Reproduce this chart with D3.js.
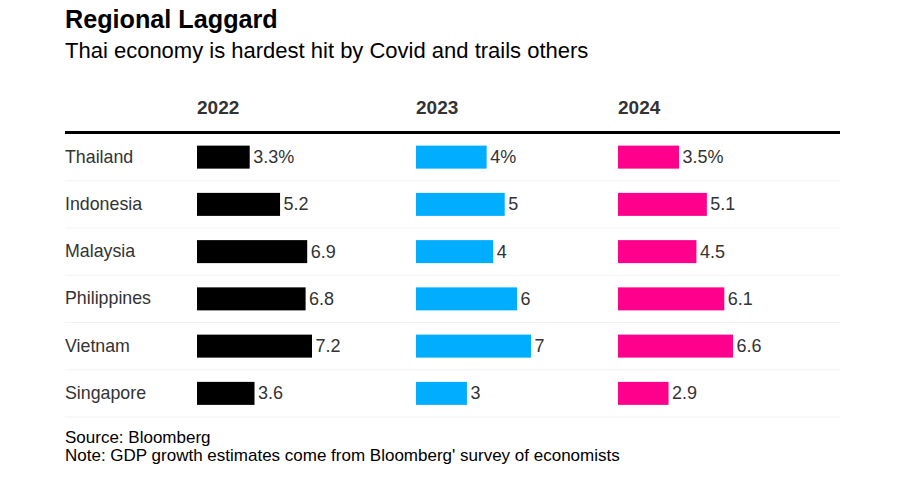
<!DOCTYPE html>
<html>
<head>
<meta charset="utf-8">
<script src="https://cdn.jsdelivr.net/npm/d3@7"></script>
<style>
  body { margin: 0; background: #fff; }
  svg { display: block; font-family: "Liberation Sans", Arial, Helvetica, sans-serif; }
</style>
</head>
<body>
<svg id="chart" width="906" height="479"></svg>
<script>
const countries = ["Thailand", "Indonesia", "Malaysia", "Philippines", "Vietnam", "Singapore"];
const years = ["2022", "2023", "2024"];
const values2022 = [3.3, 5.2, 6.9, 6.8, 7.2, 3.6];
const values2023 = [4.3, 5.4, 4.7, 6.15, 7.0, 3.1];
const values2024 = [3.5, 5.1, 4.5, 6.1, 6.6, 2.9];
const labels2022 = ["3.3%", "5.2", "6.9", "6.8", "7.2", "3.6"];
const labels2023 = ["4%", "5", "4", "6", "7", "3"];
const labels2024 = ["3.5%", "5.1", "4.5", "6.1", "6.6", "2.9"];
const colors = ["#000000", "#00adfe", "#ff008c"];

const series = [
  { year: years[0], values: values2022, labels: labels2022, color: colors[0] },
  { year: years[1], values: values2023, labels: labels2023, color: colors[1] },
  { year: years[2], values: values2024, labels: labels2024, color: colors[2] }
];

const svg = d3.select("#chart");
const left = 65, right = 840;
const colX = [197, 416, 618];
const barMax = 115;

svg.append("text").attr("x", left).attr("y", 28)
  .attr("font-size", 25.2).attr("font-weight", "bold").attr("fill", "#000")
  .text("Regional Laggard");
svg.append("text").attr("x", left).attr("y", 58)
  .attr("font-size", 22).attr("fill", "#000")
  .text("Thai economy is hardest hit by Covid and trails others");

// headers
series.forEach((s, i) => {
  svg.append("text").attr("x", colX[i]).attr("y", 114)
    .attr("font-size", 19).attr("font-weight", "bold").attr("fill", "#333")
    .text(s.year);
});

const y = d3.scaleBand().domain(countries).range([133.5, 417]).paddingInner(0);
const bh = 23;

// separators
countries.forEach(c => {
  svg.append("line").attr("x1", left).attr("x2", right)
    .attr("y1", y(c) + y.bandwidth()).attr("y2", y(c) + y.bandwidth())
    .attr("stroke", "#f2f2f2").attr("stroke-width", 1);
});

svg.append("line").attr("x1", left).attr("x2", right)
  .attr("y1", 132.5).attr("y2", 132.5).attr("stroke", "#000").attr("stroke-width", 3);

// country labels
svg.selectAll(".country").data(countries).enter().append("text")
  .attr("x", left).attr("y", d => y(d) + y.bandwidth() / 2 + 5.5)
  .attr("font-size", 17.8).attr("fill", "#333").text(d => d);

series.forEach((s, i) => {
  const x = d3.scaleLinear().domain([0, d3.max(s.values)]).range([0, barMax]);
  const g = svg.append("g").attr("transform", `translate(${colX[i]},0)`);
  g.selectAll("rect").data(s.values).enter().append("rect")
    .attr("x", 0)
    .attr("y", (d, j) => y(countries[j]) + (y.bandwidth() - bh) / 2)
    .attr("width", d => x(d)).attr("height", bh).attr("fill", s.color);
  g.selectAll("text").data(s.values).enter().append("text")
    .attr("x", d => x(d) + 3.5)
    .attr("y", (d, j) => y(countries[j]) + y.bandwidth() / 2 + 6)
    .attr("font-size", 18).attr("fill", "#333")
    .text((d, j) => s.labels[j]);
});

svg.append("text").attr("x", left).attr("y", 443)
  .attr("font-size", 17).attr("fill", "#000").text("Source: Bloomberg");
svg.append("text").attr("x", left).attr("y", 461)
  .attr("font-size", 17).attr("fill", "#000")
  .text("Note: GDP growth estimates come from Bloomberg' survey of economists");
</script>
</body>
</html>
